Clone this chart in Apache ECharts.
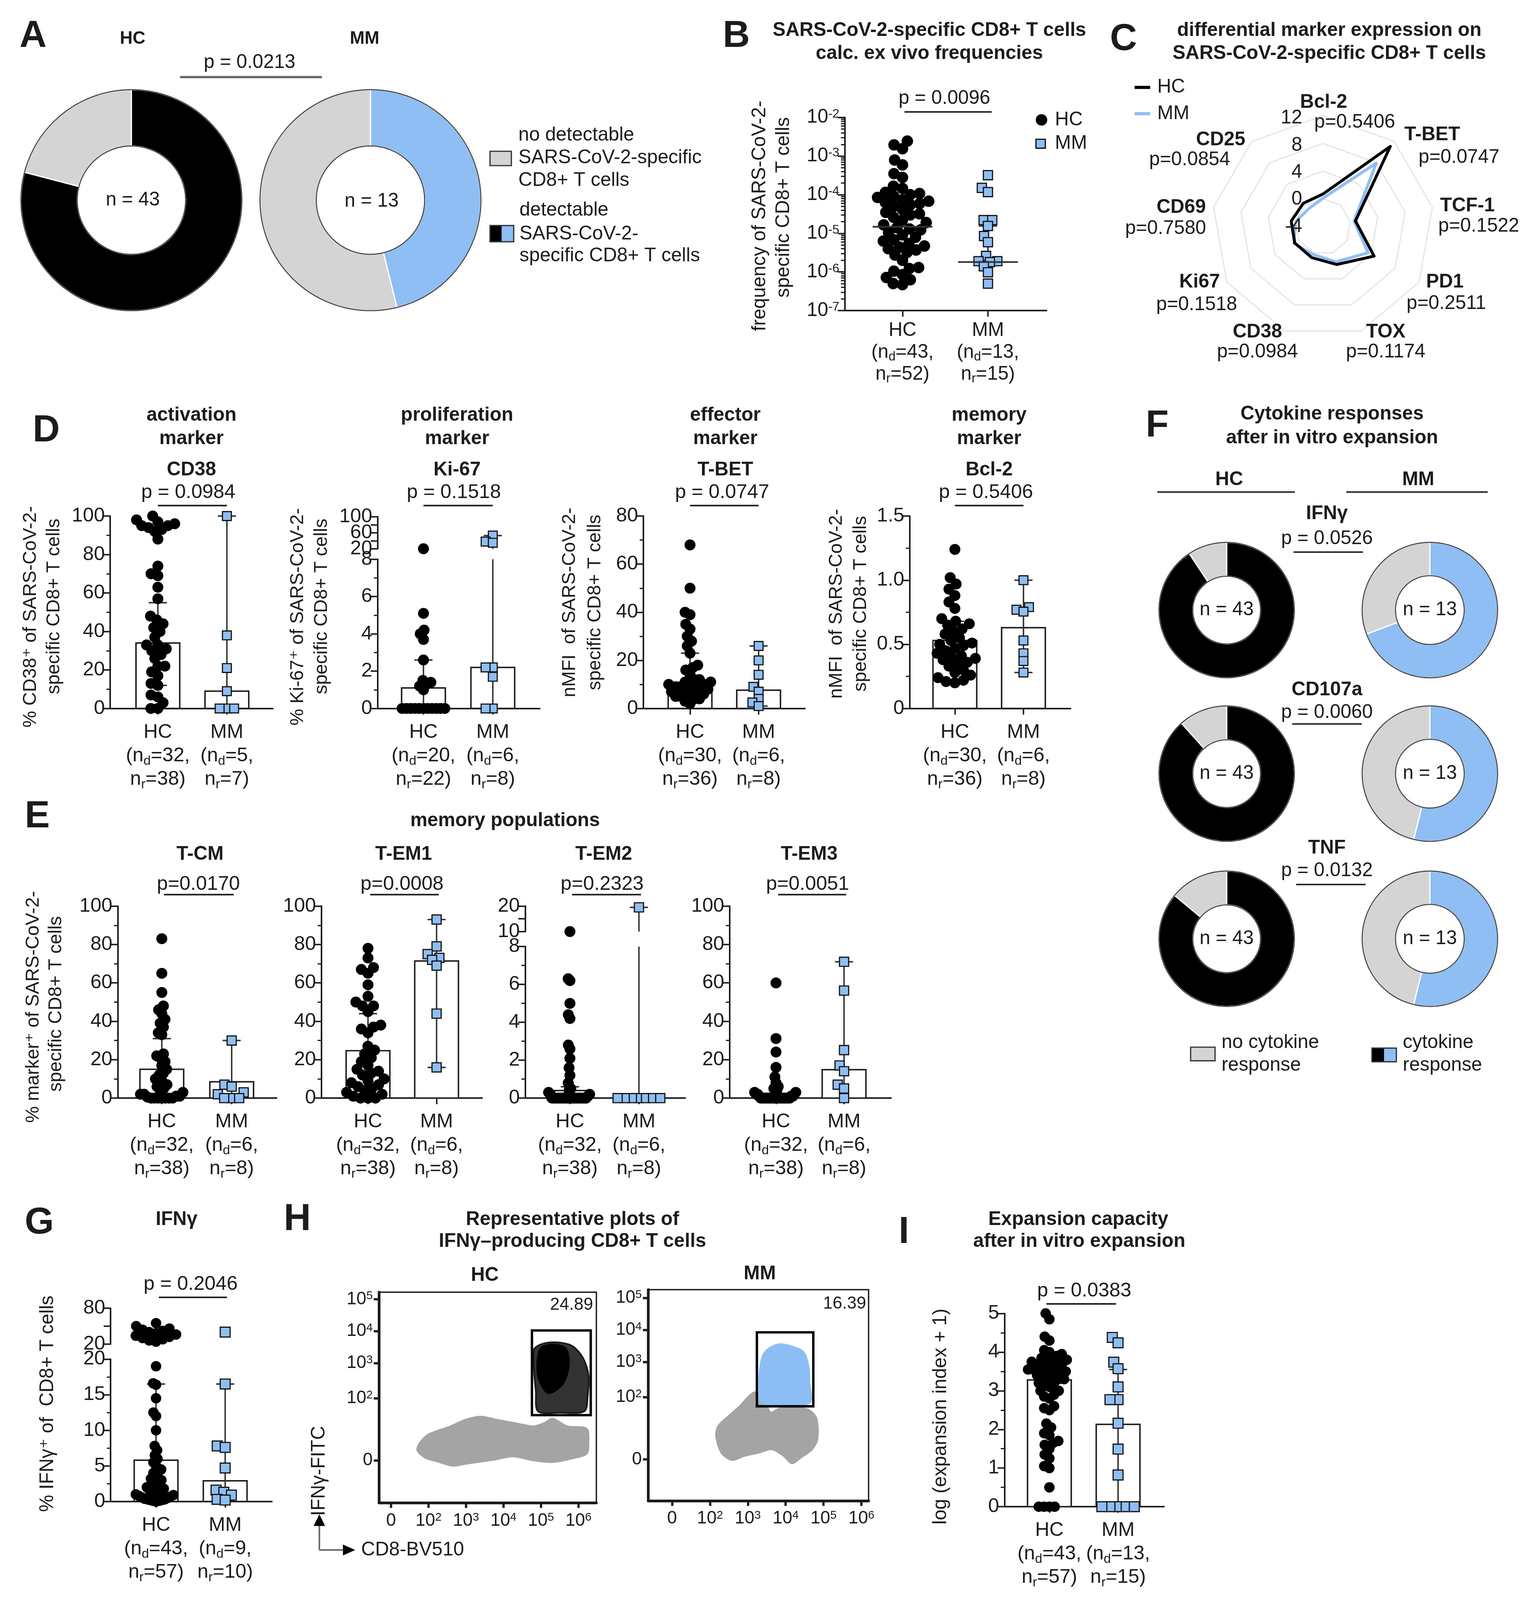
<!DOCTYPE html>
<html>
<head>
<meta charset="utf-8">
<title>SARS-CoV-2-specific CD8+ T cells in HC and MM</title>
<script src="https://cdn.jsdelivr.net/npm/echarts@6.0.0/dist/echarts.min.js"></script>
<style>
html,body{margin:0;padding:0;background:#ffffff;overflow:hidden;}
#chart{width:3932px;height:4289px;}
</style>
</head>
<body>
<div id="chart"></div>
<script>
// ======================= DATA =======================
const groupNames = ['HC', 'MM'];

// ---- A : donors with / without detectable SARS-CoV-2-specific CD8+ T cells ----
const A_HC = [34, 9];          // [detectable, not detectable]
const A_MM = [6, 7];
const A_n = [43, 13];
const A_p = 'p = 0.0213';

// ---- B : calculated ex vivo frequencies (log scale) ----
const B_HC = [2.45e-3, 1.95e-3, 1.55e-3, 7.9e-4, 5.9e-4, 3.5e-4, 2.8e-4, 1.66e-4, 1.45e-4, 1.15e-4,
  1.07e-4, 1.0e-4, 9.1e-5, 8.5e-5, 7.4e-5, 6.8e-5, 6.3e-5, 5.9e-5, 5.5e-5, 5.0e-5,
  4.1e-5, 3.5e-5, 3.2e-5, 3.0e-5, 2.6e-5, 2.2e-5, 1.9e-5, 1.66e-5, 1.4e-5, 1.3e-5,
  1.23e-5, 1.05e-5, 9.1e-6, 7.9e-6, 6.8e-6, 6.3e-6, 5.4e-6, 4.7e-6, 4.4e-6, 4.0e-6,
  3.7e-6, 3.2e-6, 2.75e-6, 2.0e-6, 1.3e-6, 1.23e-6, 1.05e-6, 8.5e-7, 7.2e-7, 6.3e-7, 5.0e-7, 4.7e-7];
const B_MM = [3.2e-4, 1.5e-4, 1.17e-4, 2.2e-5, 2.2e-5, 1.55e-5, 8.5e-6, 5.9e-6, 2.6e-6, 1.9e-6, 1.9e-6, 1.8e-6, 1.4e-6, 9.8e-7, 5.0e-7];
const B_median = [1.48e-5, 1.8e-6];
const B_err = [null, [1.8e-6, 1.55e-5]];
const B_LOD = 5e-6;
const B_n = [[43, 52], [13, 15]];
const B_p = 'p = 0.0096';

// ---- C : radar of differential marker expression ----
const C_markers = ['Bcl-2', 'T-BET', 'TCF-1', 'PD1', 'TOX', 'CD38', 'Ki67', 'CD69', 'CD25'];
const C_p = ['p=0.5406', 'p=0.0747', 'p=0.1522', 'p=0.2511', 'p=0.1174', 'p=0.0984', 'p=0.1518', 'p=0.7580', 'p=0.0854'];
const C_HC = [0.7, 11.1, 0.75, 4.5, 1.8, 0.75, 0.7, 0.65, 0.4];
const C_MM = [0.1, 7.95, 0.55, 3.5, 1.4, 0.25, 0.85, 0.0, -0.7];
const C_scale = [12, 8, 4, 0, -4];

// ---- D : activation / proliferation / effector / memory markers ----
const D_titles = [['activation', 'marker', 'CD38'], ['proliferation', 'marker', 'Ki-67'], ['effector', 'marker', 'T-BET'], ['memory', 'marker', 'Bcl-2']];
const D_p = ['p = 0.0984', 'p = 0.1518', 'p = 0.0747', 'p = 0.5406'];
const D_n = [[[32, 38], [5, 7]], [[20, 22], [6, 8]], [[30, 36], [6, 8]], [[30, 36], [6, 8]]];
const D_CD38_HC = [100, 98, 97, 96, 95, 95, 94, 93, 92, 88, 74, 70, 69, 63, 57, 48, 46, 44, 42, 40, 37, 33, 33, 31, 30, 28, 26, 22, 22, 19, 17, 13, 12, 7, 6, 3, 0, 0];
const D_CD38_MM = [100, 38, 21, 9, 0, 0, 0];
const D_CD38_bar = [34, 9];
const D_CD38_err = [[12, 55], [0, 100]];
const D_Ki67_HC = [20, 5.1, 4.2, 4.0, 3.7, 2.6, 1.5, 1.4, 1.3, 1.2, 1.0, 0, 0, 0, 0, 0, 0, 0, 0, 0, 0, 0];
const D_Ki67_MM = [53, 38, 35, 2.2, 1.7, 2.2, 0, 0];
const D_Ki67_bar = [1.1, 2.2];
const D_Ki67_err = [[0, 2.6], [0, 53]];
const D_TBET_HC = [68, 50, 40, 39, 35, 33, 30, 28, 26, 23, 18, 17, 16, 14, 12, 12, 11, 11, 10, 10, 10, 9, 9, 8, 8, 8, 7, 7, 6, 6, 5, 5, 4, 4, 3, 2];
const D_TBET_MM = [26, 20, 14, 9, 7, 4, 2.5, 1];
const D_TBET_bar = [10.9, 7.6];
const D_TBET_err = [[7, 23], [1, 26]];
const D_Bcl2_HC = [1.24, 1.02, 0.97, 0.93, 0.88, 0.83, 0.78, 0.7, 0.68, 0.66, 0.65, 0.62, 0.6, 0.58, 0.55, 0.53, 0.51, 0.5, 0.49, 0.47, 0.45, 0.43, 0.41, 0.4, 0.39, 0.38, 0.36, 0.35, 0.33, 0.3, 0.28, 0.26, 0.24, 0.22, 0.21, 0.2];
const D_Bcl2_MM = [1.0, 0.79, 0.77, 0.755, 0.53, 0.43, 0.37, 0.28];
const D_Bcl2_bar = [0.53, 0.63];
const D_Bcl2_err = [[0.4, 0.68], [0.28, 1.0]];

// ---- E : memory populations ----
const E_titles = ['T-CM', 'T-EM1', 'T-EM2', 'T-EM3'];
const E_p = ['p=0.0170', 'p=0.0008', 'p=0.2323', 'p=0.0051'];
const E_n = [[32, 38], [6, 8]];
const E_TCM_HC = [83, 65, 55, 48, 46, 44, 41, 39, 37, 34, 33, 23, 22, 21, 19, 17, 15, 13, 12, 10, 9, 7, 6, 5, 4, 3, 2, 2, 1, 1, 0.5, 0, 0, 0, 0, 0, 0, 0];
const E_TCM_MM = [30, 7, 6, 3, 2, 0, 0, 0];
const E_TCM_bar = [15, 8.5];
const E_TCM_err = [[1, 31], [0, 30]];
const E_TEM1_HC = [78, 73, 68, 67, 65, 59, 53, 50, 48, 48, 45, 38, 37, 36, 34, 27, 25, 23, 21, 19, 17, 15, 14, 13, 12, 10, 9, 8, 7, 6, 5, 4, 3, 2, 1, 0, 0, 0];
const E_TEM1_MM = [93, 79, 75, 73, 72, 69, 44, 16];
const E_TEM1_bar = [24.7, 71.4];
const E_TEM1_err = [[12, 44], [16, 93]];
const E_TEM2_HC = [10, 6.3, 6.2, 5.0, 4.4, 4.2, 2.8, 2.6, 2.1, 1.6, 1.2, 0.8, 0.5, 0.4, 0.3, 0.2, 0.2, 0.1, 0, 0, 0, 0, 0, 0, 0, 0, 0, 0, 0, 0, 0, 0, 0, 0, 0, 0, 0, 0];
const E_TEM2_MM = [19.5, 0, 0, 0, 0, 0, 0, 0];
const E_TEM2_bar = [0.4, null];
const E_TEM2_err = [[0, 0.6], [0, 19.5]];
const E_TEM3_HC = [60, 31, 24, 16, 11, 8, 6, 5, 4, 4, 3, 3, 2, 2, 2, 1, 1, 1, 0, 0, 0, 0, 0, 0, 0, 0, 0, 0, 0, 0, 0, 0, 0, 0, 0, 0, 0, 0];
const E_TEM3_MM = [71, 56, 25, 17, 14, 7, 5, 0];
const E_TEM3_bar = [null, 14.8];
const E_TEM3_err = [null, [0, 71]];

// ---- F : cytokine responses after in vitro expansion ----
const F_cytokines = ['IFNγ', 'CD107a', 'TNF'];
const F_p = ['p = 0.0526', 'p = 0.0060', 'p = 0.0132'];
const F_HC = [[39, 4], [38, 5], [37, 6]];   // [response, no response]
const F_MM = [[9, 4], [7, 6], [7, 6]];
const F_n = [43, 13];

// ---- G : IFNγ+ of CD8+ T cells ----
const G_HC = [55, 50, 46, 44, 42, 40, 38, 36, 34, 32, 30, 28, 26, 24, 19, 16.6, 16.4, 14.5, 12.5, 12, 10, 7.8, 7.2, 6.5, 6, 5.5, 5, 4.5, 4.2, 4,
  3.5, 3.2, 3, 2.8, 2.5, 2.2, 2, 1.8, 1.6, 1.5, 1.4, 1.2, 1.1, 1, 0.9, 0.8, 0.7, 0.6, 0.5, 0.4, 0.3, 0.3, 0.2, 0.2, 0.1, 0.1, 0];
const G_MM = [40, 16.5, 7.8, 7.6, 4.7, 1.6, 1.3, 0.9, 0.3, 0.2];
const G_bar = [5.8, 2.9];
const G_err = [[0, 16.5], [0.2, 16.5]];
const G_n = [[43, 57], [9, 10]];
const G_p = 'p = 0.2046';

// ---- H : representative flow plots (biexponential display units: outline vertices of the populations) ----
const H_xTicks = [0, 1, 2, 3, 4, 5];
const H_xExp = [null, 2, 3, 4, 5, 6];
const H_yTicks = [0, 1.85, 2.9, 3.85, 4.8];
const H_yExp = [null, 2, 3, 4, 5];
const H_HC_grey = [[0.75, 0.5], [1.0, 0.78], [1.54, 1.0], [2.0, 1.22], [2.4, 1.31], [2.8, 1.22], [3.14, 1.15], [3.6, 1.05], [3.8, 1.02], [4.1, 1.12], [4.31, 1.25], [4.7, 1.02], [5.22, 0.95], [5.27, 0.5], [5.22, 0.2], [4.8, 0.05], [4.31, -0.05], [3.8, 0.0], [3.25, 0.12], [2.8, 0.03], [2.5, -0.02], [2.0, -0.1], [1.65, -0.16], [1.2, -0.02], [0.91, 0.08], [0.7, 0.3]];
const H_HC_ifn = [[3.81, 3.3], [3.98, 3.45], [4.31, 3.52], [4.74, 3.46], [4.95, 3.31], [5.15, 3.0], [5.27, 2.54], [5.25, 1.9], [5.16, 1.46], [4.5, 1.42], [3.92, 1.46], [3.86, 2.08], [3.81, 2.7]];
const H_HC_core = [[4.0, 3.35], [4.3, 3.45], [4.65, 3.35], [4.75, 2.9], [4.6, 2.3], [4.2, 2.0], [3.95, 2.4], [3.9, 2.9]];
const H_MM_grey = [[1.16, 0.7], [1.22, 1.0], [1.5, 1.3], [1.8, 1.6], [2.0, 1.85], [2.2, 2.0], [2.45, 1.75], [2.6, 1.4], [2.8, 1.5], [3.1, 1.6], [3.4, 1.55], [3.65, 1.45], [3.82, 1.2], [3.84, 0.6], [3.7, 0.3], [3.4, 0.05], [3.16, -0.12], [2.95, 0.1], [2.63, 0.3], [2.3, 0.2], [1.9, 0.1], [1.58, -0.02], [1.3, 0.2]];
const H_MM_ifn = [[2.55, 3.3], [2.84, 3.43], [3.2, 3.35], [3.47, 3.2], [3.6, 2.8], [3.63, 2.3], [3.62, 1.67], [2.36, 1.67], [2.3, 2.1], [2.32, 2.7], [2.4, 3.1]];
const H_gateHC = [3.76, 5.33, 1.35, 3.87];   // xmin, xmax, ymin, ymax
const H_gateMM = [2.24, 3.73, 1.58, 3.78];
const H_pct = ['24.89', '16.39'];

// ---- I : expansion capacity ----
const I_HC = [5.0, 4.85, 4.4, 4.3, 4.05, 4.0, 3.95, 3.9, 3.85, 3.8, 3.8, 3.78, 3.75, 3.7, 3.7, 3.65, 3.6, 3.6, 3.55, 3.55,
  3.5, 3.5, 3.45, 3.4, 3.4, 3.35, 3.3, 3.3, 3.2, 3.2, 3.15, 3.1, 3.0, 3.0, 2.9, 2.85, 2.8, 2.6, 2.55, 2.5,
  2.15, 2.05, 1.9, 1.85, 1.7, 1.65, 1.6, 1.5, 1.35, 1.25, 1.05, 1.0, 0.5, 0, 0, 0, 0];
const I_MM = [4.38, 4.24, 3.74, 3.57, 3.1, 2.77, 2.77, 2.16, 1.49, 0.82, 0, 0, 0, 0, 0];
const I_bar = [3.28, 2.13];
const I_err = [null, [0, 3.55]];
const I_n = [[43, 57], [13, 15]];
const I_p = 'p = 0.0383';

// ======================= LAYOUT HELPERS =======================
// The layout below is written in units of a 1440 x 1570.7 frame and scaled to the real viewport.
const VW = window.innerWidth || 3932;
const VH = window.innerHeight || 4289;
const chartDiv = document.getElementById('chart');
chartDiv.style.width = VW + 'px';
chartDiv.style.height = VH + 'px';
const SX = VW / 1440, SY = VH / 1570.7, SS = Math.sqrt(SX * SY);
const PX = v => v * SX;
const PY = v => v * SY;
const P = v => v * SS;
const FONT = "'Liberation Sans', Arial, Helvetica, 'DejaVu Sans', sans-serif";
const INK = '#1c1c1c';
const BLUE = '#8FBEF4';
const GREY = '#D4D4D4';
const FLOWGREY = '#A4A4A4';
const FLOWBLUE = '#8CBEF5';

const grids = [], xAxes = [], yAxes = [], series = [], G = [];

function T(x, y, text, size, o) {
  o = o || {};
  const al = o.align || 'center';
  const el = {type: 'text', x: PX(x), y: PY(y), z: 100, silent: true,
    style: {text: text, fontSize: P(size), fontFamily: FONT, fontWeight: o.bold ? 'bold' : 'normal', fill: o.color || INK,
      align: al, textAlign: al, verticalAlign: 'middle', textVerticalAlign: 'middle'}};
  if (o.rot) el.rotation = o.rot;
  if (o.rich) el.style.rich = o.rich;
  G.push(el);
}
function L(x1, y1, x2, y2, w, color) {
  G.push({type: 'line', z: 100, silent: true, shape: {x1: PX(x1), y1: PY(y1), x2: PX(x2), y2: PY(y2)}, style: {stroke: color || INK, lineWidth: P(w || 1.4)}});
}
function R(x, y, w, h, fill, stroke, lw) {
  G.push({type: 'rect', z: 100, silent: true, shape: {x: PX(x), y: PY(y), width: PX(w), height: PY(h)}, style: {fill: fill, stroke: stroke || null, lineWidth: P(lw || 1)}});
}
function gridBox(l, r, t, b, extra) {
  return Object.assign({left: PX(l), top: PY(t), width: PX(r - l), height: PY(b - t), containLabel: false, outerBoundsMode: 'none'}, extra || {});
}
const ROT = Math.PI / 2;

function catRich(fs, lh) {
  return {
    m: {fontSize: P(fs), lineHeight: PY(lh), fontFamily: FONT, color: INK},
    s: {fontSize: P(fs * 0.66), lineHeight: P(fs * 0.6), verticalAlign: 'bottom', fontFamily: FONT, color: INK}
  };
}
function catLabel(name, n) {
  return '{m|' + name + '}\n{m|(n}{s|d}{m|=' + n[0] + ',}\n{m|n}{s|r}{m|=' + n[1] + ')}';
}
function supRich(fs) {
  return {
    b: {fontSize: P(fs), fontFamily: FONT, color: INK},
    s: {fontSize: P(fs * 0.65), lineHeight: P(fs * 0.6), verticalAlign: 'top', fontFamily: FONT, color: INK}
  };
}

// deterministic beeswarm: horizontal offsets (layout px) computed from the values
function swarm(vals, toPix, d, maxHalf) {
  const order = vals.map((v, i) => i).sort((a, b) => vals[a] - vals[b]);
  const placed = [];
  const off = new Array(vals.length).fill(0);
  order.forEach(i => {
    const y = toPix(vals[i]);
    const forb = [];
    placed.forEach(p => {
      const dy = Math.abs(p.y - y);
      if (dy < d) { const w = Math.sqrt(d * d - dy * dy); forb.push([p.x - w, p.x + w]); }
    });
    const cands = [0];
    forb.forEach(f => { cands.push(f[0], f[1]); });
    cands.sort((a, b) => (Math.abs(a) - Math.abs(b)) || (a - b));
    let x = 0;
    for (const c of cands) {
      if (!forb.some(f => c > f[0] + 1e-7 && c < f[1] - 1e-7)) { x = c; break; }
    }
    placed.push({x: x, y: y});
    off[i] = x;
  });
  const m = Math.max(0, ...off.map(Math.abs));
  if (m > maxHalf) { const k = maxHalf / m; for (let i = 0; i < off.length; i++) off[i] *= k; }
  return off;
}

function yAx(g, s, log) {
  const o = {type: log ? 'log' : 'value', gridIndex: g, min: s.min, max: s.max,
    axisLine: {show: true, onZero: false, lineStyle: {color: INK, width: P(1.5)}},
    axisTick: {show: true, length: PX(6.5), lineStyle: {color: INK, width: P(1.4)}},
    minorTick: {show: !!s.minor, splitNumber: s.minor || 5, length: PX(3.5), lineStyle: {color: INK, width: P(1.2)}},
    splitLine: {show: false}, minorSplitLine: {show: false},
    axisLabel: {show: true, color: INK, fontSize: P(19), fontFamily: FONT, margin: PX(5)}};
  if (log) { o.logBase = 10; o.splitNumber = 5; } else { o.interval = s.interval; }
  if (s.fmt) o.axisLabel.formatter = s.fmt;
  if (s.rich) o.axisLabel.rich = s.rich;
  return o;
}
function xAx(g, xmin, xmax, show, labels, fs, lh, margin) {
  return {type: 'value', gridIndex: g, min: xmin, max: xmax, show: show,
    axisLine: {show: true, onZero: false, lineStyle: {color: INK, width: P(1.5)}},
    axisTick: {show: true, customValues: [1, 2], length: PY(6), lineStyle: {color: INK, width: P(1.4)}},
    splitLine: {show: false},
    axisLabel: {show: true, customValues: [1, 2], margin: PY(margin), fontSize: P(fs), fontFamily: FONT, color: INK,
      formatter: v => labels[Math.round(v) - 1] || '', rich: catRich(fs, lh)}};
}
function barSeries(g, bars, seg, half) {
  const data = [];
  bars.forEach((v, i) => { if (v != null) data.push([i + 1, v]); });
  return {type: 'custom', xAxisIndex: g, yAxisIndex: g, z: 2, silent: true, animation: false, clip: false, data: data,
    renderItem: function (params, api) {
      const x = api.value(0), v = api.value(1);
      if (!(v > seg.min)) return null;
      const top = Math.min(v, seg.max);
      const p0 = api.coord([x, seg.min]), p1 = api.coord([x, top]);
      const hw = PX(half);
      return {type: 'rect', shape: {x: p0[0] - hw, y: p1[1], width: 2 * hw, height: p0[1] - p1[1]},
        style: {fill: '#ffffff', stroke: INK, lineWidth: P(1.4)}};
    }};
}
function errSeries(g, errs, seg) {
  const data = [];
  errs.forEach((e, i) => { if (e) data.push([i + 1, e[0], e[1]]); });
  return {type: 'custom', xAxisIndex: g, yAxisIndex: g, z: 3, silent: true, animation: false, clip: false, data: data,
    renderItem: function (params, api) {
      const x = api.value(0), lo = api.value(1), hi = api.value(2);
      const a = Math.max(lo, seg.min), b = Math.min(hi, seg.max);
      if (a > b) return null;
      const p1 = api.coord([x, a]), p2 = api.coord([x, b]);
      const st = {stroke: '#333333', lineWidth: P(1.4)};
      const cw = PX(8.5);
      const ch = [{type: 'line', shape: {x1: p1[0], y1: p1[1], x2: p2[0], y2: p2[1]}, style: st}];
      if (hi <= seg.max && hi >= seg.min) ch.push({type: 'line', shape: {x1: p2[0] - cw, y1: p2[1], x2: p2[0] + cw, y2: p2[1]}, style: st});
      if (lo > seg.min && lo <= seg.max) ch.push({type: 'line', shape: {x1: p1[0] - cw, y1: p1[1], x2: p1[0] + cw, y2: p1[1]}, style: st});
      return {type: 'group', children: ch};
    }};
}
function medSeries(g, meds) {
  return {type: 'custom', xAxisIndex: g, yAxisIndex: g, z: 6, silent: true, animation: false, clip: false,
    data: meds.map((v, i) => [i + 1, v]),
    renderItem: function (params, api) {
      const c = api.coord([api.value(0), api.value(1)]);
      const hw = PX(28);
      return {type: 'line', shape: {x1: c[0] - hw, y1: c[1], x2: c[0] + hw, y2: c[1]}, style: {stroke: '#333333', lineWidth: P(1.6)}};
    }};
}
function dots(g, data, isMM, size) {
  return {type: 'scatter', xAxisIndex: g, yAxisIndex: g, z: 4, silent: true, animation: false, clip: false, data: data,
    symbol: isMM ? 'rect' : 'circle', symbolSize: P(size),
    itemStyle: isMM ? {color: BLUE, borderColor: '#111111', borderWidth: P(1.1), opacity: 1} : {color: '#000000', opacity: 1}};
}

function dotPanel(c) {
  const unit = c.xMM - c.xHC;
  const xmin = 1 - (c.xHC - c.left) / unit;
  const xmax = 2 + (c.end - c.xMM) / unit;
  const labels = [0, 1].map(i => catLabel(groupNames[i], c.n[i]));
  const fs = c.catFont || 19, lh = c.catLH || 23, mg = c.catMargin || 12;
  c.segs.forEach((s, k) => {
    s.g = grids.length;
    grids.push(gridBox(c.left, c.end, s.top, s.bottom));
    xAxes.push(xAx(s.g, xmin, xmax, k === 0, labels, fs, lh, mg));
    yAxes.push(yAx(s.g, s, c.log));
  });
  const segOf = v => { for (let k = 0; k < c.segs.length; k++) { const s = c.segs[k]; if (v >= s.min && v <= s.max) return k; } return 0; };
  c.segs.forEach((s, k) => {
    if (c.bars) series.push(barSeries(s.g, c.bars, s, c.barHalf || 20.5));
    if (c.errs) series.push(errSeries(s.g, c.errs, s));
    if (c.meds) series.push(medSeries(s.g, c.meds));
    [c.hc, c.mm].forEach((vals, gi) => {
      const sub = vals.filter(v => segOf(v) === k);
      if (!sub.length) return;
      const H = s.bottom - s.top;
      const toPix = c.log
        ? (v => (Math.log10(v) - Math.log10(s.min)) / (Math.log10(s.max) - Math.log10(s.min)) * H)
        : (v => (v - s.min) / (s.max - s.min) * H);
      const size = gi === 0 ? c.dot : c.sq;
      const off = swarm(sub, toPix, size * (c.pack || 0.8), c.spread || 20);
      const ser = dots(s.g, sub.map((v, i) => [gi + 1 + off[i] / unit, v]), gi === 1, size);
      if (c.lod && gi === 0 && k === 0) {
        ser.markLine = {silent: true, symbol: ['none', 'none'], label: {show: false}, animation: false,
          lineStyle: {type: [P(2), P(4)], color: '#333333', width: P(1.6)}, data: [{yAxis: c.lod}]};
      }
      series.push(ser);
    });
  });
}

function donut(cx, cy, r0, r1, vals, colors) {
  series.push({type: 'pie', center: [PX(cx), PY(cy)], radius: [P(r0), P(r1)], startAngle: 90, clockwise: true,
    silent: true, animation: false, label: {show: false}, labelLine: {show: false}, emphasis: {disabled: true},
    itemStyle: {borderColor: '#ffffff', borderWidth: P(1.2)},
    data: vals.map((v, i) => ({value: v, itemStyle: {color: colors[i]}}))});
  G.push({type: 'circle', z: 100, silent: true, shape: {cx: PX(cx), cy: PY(cy), r: P(r1)}, style: {fill: null, stroke: '#444444', lineWidth: P(1)}});
  G.push({type: 'circle', z: 100, silent: true, shape: {cx: PX(cx), cy: PY(cy), r: P(r0)}, style: {fill: null, stroke: '#444444', lineWidth: P(1)}});
}

function expLabel(ticks, exps, v) {
  let k = 0, best = 1e9;
  ticks.forEach((t, i) => { if (Math.abs(t - v) < best) { best = Math.abs(t - v); k = i; } });
  return exps[k] == null ? '{b|0}' : '{b|10}{s|' + exps[k] + '}';
}
function polySeries(g, pts, fill, z) {
  return {type: 'custom', xAxisIndex: g, yAxisIndex: g, z: z, silent: true, animation: false, clip: true, data: pts,
    renderItem: function (params, api) {
      if (params.dataIndex !== 0) return null;
      const pp = pts.map(p => api.coord(p));
      return {type: 'polygon', shape: {points: pp, smooth: 0.3}, style: {fill: fill, stroke: fill, lineWidth: P(1.5)}};
    }};
}
function gateSeries(g, gate) {
  return {type: 'custom', xAxisIndex: g, yAxisIndex: g, z: 6, silent: true, animation: false, clip: false, data: [gate],
    renderItem: function (params, api) {
      const a = api.coord([api.value(0), api.value(2)]), b = api.coord([api.value(1), api.value(3)]);
      return {type: 'rect', shape: {x: a[0], y: b[1], width: b[0] - a[0], height: a[1] - b[1]}, style: {fill: null, stroke: '#000000', lineWidth: P(2.3)}};
    }};
}
function flowPanel(c) {
  const g = grids.length;
  grids.push(gridBox(c.left, c.right, c.top, c.bottom, {show: true, borderColor: INK, borderWidth: P(1.3), backgroundColor: 'rgba(0,0,0,0)'}));
  xAxes.push({type: 'value', gridIndex: g, min: c.xmin, max: c.xmax,
    axisLine: {show: true, onZero: false, lineStyle: {color: INK, width: P(2.6)}},
    axisTick: {show: true, customValues: H_xTicks, length: PY(5), lineStyle: {color: INK, width: P(2.2)}},
    axisLabel: {customValues: H_xTicks, margin: PY(9), formatter: v => expLabel(H_xTicks, H_xExp, v), rich: supRich(17)},
    splitLine: {show: false}});
  yAxes.push({type: 'value', gridIndex: g, min: c.ymin, max: c.ymax,
    axisLine: {show: true, onZero: false, lineStyle: {color: INK, width: P(2.6)}},
    axisTick: {show: true, customValues: H_yTicks, length: PX(5), lineStyle: {color: INK, width: P(2.2)}},
    axisLabel: {customValues: H_yTicks, margin: PX(6), formatter: v => expLabel(H_yTicks, H_yExp, v), rich: supRich(17)},
    splitLine: {show: false}});
  series.push(polySeries(g, c.grey, FLOWGREY, 2));
  c.pops.forEach((pp, i) => series.push(polySeries(g, pp.pts, pp.color, 3 + i)));
  series.push(gateSeries(g, c.gate));
}

// ======================= PANEL A =======================
T(31, 36, 'A', 36, {bold: 1});
T(124.3, 38.3, 'HC', 17, {bold: 1});
T(341.8, 38.3, 'MM', 17, {bold: 1});
T(234, 61.5, A_p, 18.5);
L(168.7, 75.7, 301.8, 75.7, 2.2, '#666666');
donut(123.2, 196.5, 52, 106, A_HC, ['#000000', GREY]);
donut(347.3, 196.5, 52, 106, A_MM, [BLUE, GREY]);
T(124.5, 196.5, 'n = ' + A_n[0], 18.5);
T(348.4, 197.5, 'n = ' + A_n[1], 18.5);
R(459.4, 148.5, 20, 14.1, GREY, '#333333', 1.2);
T(486, 132.7, 'no detectable', 18.5, {align: 'left'});
T(486, 155, 'SARS-CoV-2-specific', 18.5, {align: 'left'});
T(486, 177.5, 'CD8+ T cells', 18.5, {align: 'left'});
R(459.4, 221.4, 11, 15.9, '#000000');
R(470.4, 221.4, 11.2, 15.9, BLUE);
R(459.4, 221.4, 22.2, 15.9, null, '#333333', 1.2);
T(487, 206.5, 'detectable', 18.5, {align: 'left'});
T(487, 229.8, 'SARS-CoV-2-', 18.5, {align: 'left'});
T(487, 251.3, 'specific CD8+ T cells', 18.5, {align: 'left'});

// ======================= PANEL B =======================
T(690.3, 36, 'B', 36, {bold: 1});
T(871.3, 30, 'SARS-CoV-2-specific CD8+ T cells', 18.5, {bold: 1});
T(871.3, 52.5, 'calc. ex vivo frequencies', 18.5, {bold: 1});
T(885.4, 96.9, B_p, 18.5);
L(848, 109.9, 929.7, 109.9, 1.5);
G.push({type: 'circle', z: 100, silent: true, shape: {cx: PX(976.4), cy: PY(117.7), r: P(5.5)}, style: {fill: '#000000'}});
T(989, 117.7, 'HC', 18.5, {align: 'left'});
R(971.2, 136.7, 8.8, 8.8, BLUE, '#111111', 1.2);
T(989, 141, 'MM', 18.5, {align: 'left'});
T(712.5, 212, 'frequency of SARS-CoV-2-', 18.5, {rot: ROT});
T(734.7, 203.6, 'specific CD8+ T cells', 18.5, {rot: ROT});
dotPanel({left: 791.9, end: 981.1, xHC: 846.1, xMM: 926.2, log: true,
  segs: [{top: 115.3, bottom: 304.9, min: 1e-7, max: 1e-2, minor: 9,
    fmt: v => '{b|10}{s|' + Math.round(Math.log10(v)) + '}', rich: supRich(18.5)}],
  hc: B_HC, mm: B_MM, meds: B_median, errs: B_err, lod: B_LOD, n: B_n,
  dot: 11, sq: 8.8, spread: 28, catFont: 18.5, catLH: 21.5, catMargin: 9});

// ======================= PANEL C (radar) =======================
const C_center = [1240.3, 222.5], C_R = 106.5;
const C_order = [0, 8, 7, 6, 5, 4, 3, 2, 1];   // radar indicators run counter-clockwise from the top
T(1053.2, 39, 'C', 36, {bold: 1});
T(1246.2, 30, 'differential marker expression on', 18.5, {bold: 1});
T(1246.2, 52.5, 'SARS-CoV-2-specific CD8+ T cells', 18.5, {bold: 1});
L(1063.7, 85.8, 1078.3, 85.8, 3, '#000000');
T(1084.9, 85.8, 'HC', 18.5, {align: 'left'});
L(1063.7, 111.6, 1078.3, 111.6, 3, BLUE);
T(1084.9, 111.6, 'MM', 18.5, {align: 'left'});
const C_namePos = [[1240.9, 100.6], [1342.7, 132.5], [1375.7, 202.4], [1354.6, 277.2], [1299.1, 326.2], [1178.8, 326.2], [1124.6, 277.2], [1107.4, 203.6], [1144.4, 137.4]];
const C_pPos = [[1270, 120.2], [1367.8, 154.5], [1386.3, 222], [1355.9, 298], [1299.1, 345.8], [1178.8, 345.8], [1121.9, 299.2], [1092.8, 224.4], [1115.3, 157]];
C_markers.forEach((m, i) => {
  T(C_namePos[i][0], C_namePos[i][1], m, 18.5, {bold: 1});
  T(C_pPos[i][0], C_pPos[i][1], C_p[i], 18.5);
});
C_scale.forEach(v => T(C_center[0] - 19.5, C_center[1] - (v + 4) / 16 * C_R, String(v), 18.5, {align: 'right'}));
const radarOpt = {center: [PX(C_center[0]), PY(C_center[1])], radius: P(C_R), startAngle: 90, splitNumber: 4, shape: 'polygon',
  indicator: C_order.map(i => ({name: C_markers[i], min: -4, max: 12})),
  axisName: {show: false}, axisLine: {show: false}, axisTick: {show: false}, axisLabel: {show: false},
  splitLine: {lineStyle: {color: '#E4E4E4', width: P(1.1)}}, splitArea: {show: false}};
series.push({type: 'radar', radarIndex: 0, silent: true, animation: false, symbol: 'none', z: 3,
  data: [
    {value: C_order.map(i => C_MM[i]), lineStyle: {color: BLUE, width: P(2.8)}, itemStyle: {color: BLUE}},
    {value: C_order.map(i => C_HC[i]), lineStyle: {color: '#000000', width: P(2.8)}, itemStyle: {color: '#000000'}}
  ]});

// ======================= PANEL D =======================
T(43.4, 423, 'D', 36, {bold: 1});
const D_layout = [
  {left: 103.3, end: 255.8, xHC: 148, xMM: 212.7, tx: 179.5, nx: [28.8, 50.8], ny: [605.5, 595.3], y1: '% CD38⁺ of SARS-CoV-2-'},
  {left: 354, end: 506, xHC: 397, xMM: 462, tx: 428.5, nx: [279.5, 301.5], ny: [605.5, 595.3], y1: '% Ki-67⁺ of SARS-CoV-2-'},
  {left: 603.2, end: 754.6, xHC: 646.9, xMM: 711.2, tx: 680, nx: [534.4, 558], ny: [591.4, 591.4], y1: 'nMFI  of SARS-CoV-2-'},
  {left: 852.8, end: 1003.6, xHC: 895.2, xMM: 959.5, tx: 927.3, nx: [784.4, 807.1], ny: [592.7, 592.7], y1: 'nMFI  of SARS-CoV-2-'}
];
D_layout.forEach((l, i) => {
  T(l.tx, 407.6, D_titles[i][0], 18.5, {bold: 1});
  T(l.tx, 430.8, D_titles[i][1], 18.5, {bold: 1});
  T(l.tx, 461.6, D_titles[i][2], 18.5, {bold: 1});
  T(l.tx - 3, 483.4, D_p[i], 19);
  L(l.xHC, 496.3, l.xMM, 496.3, 1.5);
  T(l.nx[0], l.ny[0], l.y1, 18, {rot: ROT});
  T(l.nx[1], l.ny[1], 'specific CD8+ T cells', 18, {rot: ROT});
});
const Dtop = 506.6, Dbot = 695.5;
dotPanel(Object.assign({}, D_layout[0], {segs: [{top: Dtop, bottom: Dbot, min: 0, max: 100, interval: 20, minor: 2}],
  hc: D_CD38_HC, mm: D_CD38_MM, bars: D_CD38_bar, errs: D_CD38_err, n: D_n[0], dot: 10.5, sq: 8.5}));
dotPanel(Object.assign({}, D_layout[1], {segs: [{top: 549, bottom: Dbot, min: 0, max: 8, interval: 2, minor: 2},
  {top: 507.3, bottom: 538.7, min: 20, max: 100, interval: 20, fmt: v => (v === 40 || v === 80) ? '' : String(v)}],
  hc: D_Ki67_HC, mm: D_Ki67_MM, bars: D_Ki67_bar, errs: D_Ki67_err, n: D_n[1], dot: 10.5, sq: 8.5}));
dotPanel(Object.assign({}, D_layout[2], {segs: [{top: Dtop, bottom: Dbot, min: 0, max: 80, interval: 20, minor: 2}],
  hc: D_TBET_HC, mm: D_TBET_MM, bars: D_TBET_bar, errs: D_TBET_err, n: D_n[2], dot: 10.5, sq: 8.5}));
dotPanel(Object.assign({}, D_layout[3], {segs: [{top: Dtop, bottom: Dbot, min: 0, max: 1.5, interval: 0.5, minor: 2, fmt: v => v === 0 ? '0' : v.toFixed(1)}],
  hc: D_Bcl2_HC, mm: D_Bcl2_MM, bars: D_Bcl2_bar, errs: D_Bcl2_err, n: D_n[3], dot: 10.5, sq: 8.5}));

// ======================= PANEL E =======================
T(35, 802, 'E', 36, {bold: 1});
T(473.5, 806, 'memory populations', 18.5, {bold: 1});
T(31.5, 988.5, '% marker⁺ of SARS-CoV-2-', 18, {rot: ROT});
T(52.6, 985.5, 'specific CD8+ T cells', 18, {rot: ROT});
const E_layout = [
  {left: 110.4, end: 259.3, xHC: 151.7, xMM: 217.2, tx: 187.5},
  {left: 301.3, end: 452, xHC: 345, xMM: 409.3, tx: 378.4},
  {left: 492.3, end: 642.5, xHC: 534.3, xMM: 599, tx: 566},
  {left: 684, end: 835.4, xHC: 727.5, xMM: 791.3, tx: 758.6}
];
E_layout.forEach((l, i) => {
  T(l.tx, 838.9, E_titles[i], 18.5, {bold: 1});
  T(l.tx - 1.5, 868.3, E_p[i], 19);
  L(l.xHC + 2, 878.2, l.xMM + 2, 878.2, 1.5);
});
const Etop = 889.5, Ebot = 1078;
dotPanel(Object.assign({}, E_layout[0], {segs: [{top: Etop, bottom: Ebot, min: 0, max: 100, interval: 20, minor: 2}],
  hc: E_TCM_HC, mm: E_TCM_MM, bars: E_TCM_bar, errs: E_TCM_err, n: E_n, dot: 10.5, sq: 8.8}));
dotPanel(Object.assign({}, E_layout[1], {segs: [{top: Etop, bottom: Ebot, min: 0, max: 100, interval: 20, minor: 2}],
  hc: E_TEM1_HC, mm: E_TEM1_MM, bars: E_TEM1_bar, errs: E_TEM1_err, n: E_n, dot: 10.5, sq: 8.8}));
dotPanel(Object.assign({}, E_layout[2], {segs: [{top: 929.2, bottom: Ebot, min: 0, max: 8, interval: 2, minor: 2},
  {top: Etop, bottom: 914.5, min: 10, max: 20, interval: 5, fmt: v => v === 15 ? '' : String(v)}],
  hc: E_TEM2_HC, mm: E_TEM2_MM, bars: E_TEM2_bar, errs: E_TEM2_err, n: E_n, dot: 10.5, sq: 8.8}));
dotPanel(Object.assign({}, E_layout[3], {segs: [{top: Etop, bottom: Ebot, min: 0, max: 100, interval: 20, minor: 2}],
  hc: E_TEM3_HC, mm: E_TEM3_MM, bars: E_TEM3_bar, errs: E_TEM3_err, n: E_n, dot: 10.5, sq: 8.8}));

// ======================= PANEL F =======================
T(1084.9, 418, 'F', 36, {bold: 1});
T(1248.8, 406.7, 'Cytokine responses', 18.5, {bold: 1});
T(1248.8, 430.2, 'after in vitro expansion', 18.5, {bold: 1});
T(1152.4, 471, 'HC', 18.5, {bold: 1});
L(1084.9, 483, 1213.9, 483, 1.4);
T(1329.6, 471, 'MM', 18.5, {bold: 1});
L(1262.1, 483, 1394.7, 483, 1.4);
const F_rows = [{cy: 598.9, ty: 504.3, py: 528.8, ly: 542, lx: [1212.7, 1277.8]},
  {cy: 759.5, ty: 677.4, py: 699.6, ly: 710.7, lx: [1211.5, 1276.6]},
  {cy: 921.6, ty: 832.8, py: 855, ly: 868.3, lx: [1215.1, 1280.2]}];
F_rows.forEach((r, i) => {
  T(1244, r.ty, F_cytokines[i], 18.5, {bold: 1});
  T(1244, r.py, F_p[i], 18.5);
  L(r.lx[0], r.ly, r.lx[1], r.ly, 1.4);
  donut(1150, r.cy, 32.5, 65, F_HC[i], ['#000000', GREY]);
  donut(1340.5, r.cy, 33, 65, F_MM[i], [BLUE, GREY]);
  T(1150, r.cy, 'n = ' + F_n[0], 18.5);
  T(1340.5, r.cy, 'n = ' + F_n[1], 18.5);
});
R(1116.2, 1028, 22.9, 13.4, GREY, '#333333', 1.2);
T(1145.2, 1023.6, 'no cytokine', 18.5, {align: 'left'});
T(1145.2, 1045.8, 'response', 18.5, {align: 'left'});
R(1286.2, 1028.9, 11.4, 13.4, '#000000');
R(1297.6, 1028.9, 11.5, 13.4, BLUE);
R(1286.2, 1028.9, 22.9, 13.4, null, '#333333', 1.2);
T(1315.1, 1023.6, 'cytokine', 18.5, {align: 'left'});
T(1315.1, 1045.8, 'response', 18.5, {align: 'left'});

// ======================= PANEL G =======================
T(36.8, 1201, 'G', 36, {bold: 1});
T(165.5, 1197.3, 'IFNγ', 18.5, {bold: 1});
T(178.7, 1260.9, G_p, 19);
L(148.9, 1273.6, 212.8, 1273.6, 1.5);
T(44.7, 1378, '% IFNγ⁺ of  CD8+ T cells', 18.5, {rot: ROT});
dotPanel({left: 103.7, end: 254.9, xHC: 146.3, xMM: 211.1,
  segs: [{top: 1334.2, bottom: 1474, min: 0, max: 20, interval: 5, minor: 2},
    {top: 1284.3, bottom: 1319.4, min: 20, max: 80, interval: 30, fmt: v => v === 50 ? '' : String(v)}],
  hc: G_HC, mm: G_MM, bars: G_bar, errs: G_err, n: G_n, dot: 10, sq: 9.5, spread: 19});

// ======================= PANEL H =======================
T(278.8, 1197.3, 'H', 36, {bold: 1});
T(536.7, 1197.3, 'Representative plots of', 18.5, {bold: 1});
T(536.7, 1219, 'IFNγ–producing CD8+ T cells', 18.5, {bold: 1});
T(454.5, 1252, 'HC', 18.5, {bold: 1});
T(712.3, 1250.7, 'MM', 18.5, {bold: 1});
flowPanel({left: 355.4, right: 559.1, top: 1268.5, bottom: 1475.3, xmin: -0.32, xmax: 5.48, ymin: -1.26, ymax: 5.01,
  grey: H_HC_grey, pops: [{pts: H_HC_ifn, color: 'rgba(0,0,0,0.8)'}, {pts: H_HC_core, color: '#000000'}], gate: H_gateHC});
flowPanel({left: 607.7, right: 814.3, top: 1266, bottom: 1473.3, xmin: -0.63, xmax: 5.19, ymin: -1.23, ymax: 5.05,
  grey: H_MM_grey, pops: [{pts: H_MM_ifn, color: FLOWBLUE}], gate: H_gateMM});
T(556, 1281.3, H_pct[0], 16.5, {align: 'right'});
T(812, 1280, H_pct[1], 16.5, {align: 'right'});
L(299.4, 1521.6, 299.4, 1495, 1.5, '#666666');
L(299.4, 1521.6, 324, 1521.6, 1.5, '#666666');
G.push({type: 'polygon', z: 100, silent: true, shape: {points: [[PX(299.4), PY(1486.5)], [PX(294), PY(1498)], [PX(304.8), PY(1498)]]}, style: {fill: '#000000'}});
G.push({type: 'polygon', z: 100, silent: true, shape: {points: [[PX(333), PY(1521.6)], [PX(321.5), PY(1516.2)], [PX(321.5), PY(1527)]]}, style: {fill: '#000000'}});
T(299.4, 1444, 'IFNγ-FITC', 18.5, {rot: ROT});
T(338.6, 1521.6, 'CD8-BV510', 18.5, {align: 'left'});

// ======================= PANEL I =======================
T(847.4, 1210, 'I', 36, {bold: 1});
T(1010.9, 1197.3, 'Expansion capacity', 18.5, {bold: 1});
T(1011.8, 1219, 'after in vitro expansion', 18.5, {bold: 1});
T(1016.5, 1267.3, I_p, 19);
L(981, 1280, 1046.3, 1280, 1.5);
T(881.9, 1390.6, 'log (expansion index + 1)', 18.5, {rot: ROT});
dotPanel({left: 941.7, end: 1091.2, xHC: 983.8, xMM: 1048.2,
  segs: [{top: 1289.4, bottom: 1479.1, min: 0, max: 5, interval: 1, minor: 2}],
  hc: I_HC, mm: I_MM, bars: I_bar, errs: I_err, n: I_n, dot: 10, sq: 9.5, spread: 20});

// ======================= RENDER =======================
const chart = echarts.init(chartDiv, null, {renderer: 'canvas', width: VW, height: VH});
chart.setOption({
  backgroundColor: '#ffffff',
  animation: false,
  textStyle: {fontFamily: FONT},
  grid: grids,
  xAxis: xAxes,
  yAxis: yAxes,
  radar: [radarOpt],
  series: series,
  graphic: {elements: G}
});
</script>
</body>
</html>
